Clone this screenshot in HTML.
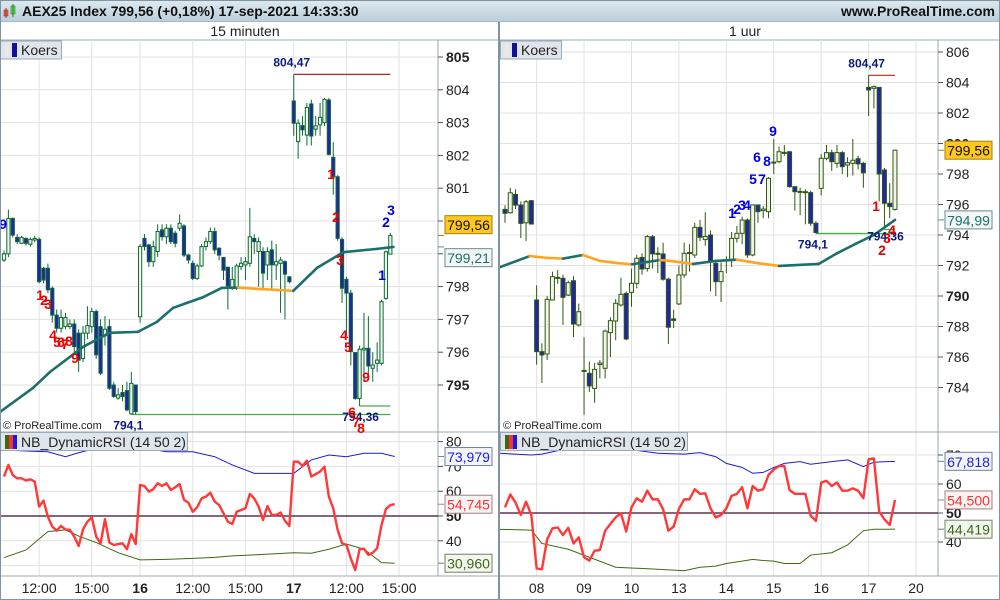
<!DOCTYPE html>
<html><head><meta charset="utf-8">
<style>
html,body{margin:0;padding:0;background:#fff;}
svg{display:block;font-family:"Liberation Sans",Arial,sans-serif;}
</style></head>
<body>
<svg id="chart" width="1000" height="600" viewBox="0 0 1000 600" xmlns="http://www.w3.org/2000/svg">
<defs>
<linearGradient id="topg" x1="0" y1="0" x2="0" y2="1"><stop offset="0" stop-color="#dfeaf0"/><stop offset="1" stop-color="#b9cdd9"/></linearGradient>
<clipPath id="clipLP"><rect x="0" y="40" width="438" height="392"/></clipPath>
<clipPath id="clipLR"><rect x="0" y="432" width="438" height="144"/></clipPath>
<clipPath id="clipRP"><rect x="500" y="40" width="438" height="392"/></clipPath>
<clipPath id="clipRR"><rect x="500" y="432" width="438" height="144"/></clipPath>
</defs>
<rect x="0" y="0" width="1000" height="600" fill="#fff"/>
<rect x="0" y="0" width="1000" height="22" fill="url(#topg)" stroke="#8fa5b3"/>
<g><rect x="4" y="10" width="4" height="6" fill="#f06060" stroke="#a03030" stroke-width="0.6"/><line x1="6" y1="8" x2="6" y2="18" stroke="#a03030"/><rect x="11" y="6" width="4" height="8" fill="#60e060" stroke="#208020" stroke-width="0.6"/><line x1="13" y1="4" x2="13" y2="17" stroke="#208020"/></g>
<text x="22" y="16" font-size="14" font-weight="bold" fill="#111">AEX25 Index 799,56 (+0,18%) 17-sep-2021 14:33:30</text>
<text x="995" y="16" font-size="14" font-weight="bold" fill="#111" text-anchor="end">www.ProRealTime.com</text>
<rect x="0" y="22" width="1000" height="18" fill="#fff"/>
<text x="245" y="36" font-size="14" fill="#222" text-anchor="middle">15 minuten</text>
<text x="745" y="36" font-size="14" fill="#222" text-anchor="middle">1 uur</text>
<line x1="0" y1="40" x2="1000" y2="40" stroke="#9aabb6"/>
<g id="root"></g>
<line x1="499" y1="22" x2="499" y2="600" stroke="#7f95a3" stroke-width="2"/>
<rect x="0.5" y="0.5" width="999" height="599" fill="none" stroke="#7f95a3"/>
</svg>
<script>
// ===== LEFT (15 min) DATA =====
const leftOHLC = [
[798.81,799.1,798.75,799.0],[799.0,800.35,798.9,800.08],[800.08,800.1,799.5,799.57],[799.5,799.6,799.3,799.37],[799.32,799.55,799.3,799.5],
[799.47,799.5,799.25,799.32],[799.29,799.5,799.22,799.44],[799.42,799.55,799.35,799.47],[799.44,799.5,798.1,798.15],[798.56,798.6,798.1,798.2],
[798.56,798.7,797.8,797.9],[797.95,798.0,796.9,797.13],[797.13,797.3,796.6,796.73],[796.73,797.3,796.6,797.06],[796.78,797.2,796.7,797.06],
[796.78,797.0,796.7,796.86],[796.86,797.0,796.0,796.17],[796.58,796.7,795.4,795.76],[795.81,796.8,795.7,796.58],[796.58,797.4,796.4,796.81],
[796.78,797.35,796.6,797.24],[797.24,797.3,795.8,795.92],[796.78,797.0,795.3,795.36],[796.5,797.1,796.2,796.7],[796.78,797.0,794.85,794.9],
[795.0,795.1,794.6,794.65],[794.6,794.9,794.55,794.7],[794.77,795.0,794.5,794.65],[794.83,795.1,794.2,794.24],[794.12,795.4,794.1,795.05],
[795.0,795.0,794.1,794.19],
[797.08,799.3,796.9,799.22],[799.47,799.6,799.1,799.22],[799.27,799.3,798.6,798.76],[798.76,799.4,798.6,799.22],[799.07,799.9,798.9,799.68],
[799.73,799.9,799.4,799.52],[799.52,799.9,799.3,799.78],[799.78,799.9,799.3,799.37],[799.63,799.7,799.2,799.32],[799.78,800.2,799.7,799.93],
[799.85,799.9,798.9,798.96],[798.96,799.0,798.7,798.81],[798.71,798.8,798.2,798.25],[798.25,798.7,798.2,798.63],[798.63,799.3,798.6,799.22],
[799.22,799.5,799.1,799.37],[799.37,799.8,799.3,799.68],[799.68,799.8,799.0,799.12],[799.17,799.2,798.8,798.96],[798.89,798.9,798.2,798.5],
[798.59,798.6,797.3,798.02],[797.95,798.6,797.9,798.22],[797.95,798.7,797.9,798.63],[798.61,798.9,798.5,798.71],[798.66,798.9,798.2,798.76],
[798.71,800.4,798.6,799.52],[799.47,799.6,799.0,799.37],[799.07,799.5,798.0,799.37],[799.07,799.2,797.9,798.41],[798.66,799.2,798.2,799.07],
[799.12,799.4,797.9,798.66],[798.66,799.3,798.2,798.76],[798.71,798.9,797.2,798.81],[798.76,798.8,797.0,798.38],[798.3,798.3,798.1,798.15],
[803.66,804.47,802.6,802.98],[802.42,803.1,801.9,802.98],[802.91,803.2,802.6,802.78],[802.62,803.6,802.3,803.46],[803.57,803.7,802.3,802.59],
[802.8,803.2,802.6,802.9],[802.93,803.6,802.6,803.16],[803.0,803.75,802.9,803.71],[803.69,803.75,802.0,802.03],[801.94,802.4,800.8,801.35],
[801.35,801.4,799.4,799.47],[799.44,799.5,797.5,797.95],[798.22,798.3,796.5,797.8],[797.8,797.9,795.6,796.02],[795.99,796.0,794.55,794.59],
[794.59,796.2,794.36,796.09],[796.07,797.2,795.1,796.12],[796.12,797.1,795.3,795.58],[795.51,796.0,795.1,795.61],[795.66,796.3,795.4,795.76],
[795.66,797.6,795.6,797.54],[797.64,799.1,797.6,799.06],[798.99,799.64,798.99,799.56]
];
const leftMAIdx = [-0.9,6.6,10.5,18,24,30.5,34.8,38.5,41.6,45.4,49.6,53.3,58,62,65.9,71.3,77.3,82.6,85,88.7];
const leftMAVal = [794.18,794.91,795.4,796.16,796.59,796.62,796.92,797.35,797.5,797.68,797.96,797.97,797.93,797.9,797.87,798.57,799.05,799.12,799.15,799.21];
const leftRSI = [65.9,70.6,66.5,65.2,65.2,64.3,64.8,63.9,53.8,56.2,49.7,45.7,44.1,46.0,44.6,44.4,41.7,37.9,44.6,47.7,
49.5,41.7,39.0,48.7,39.3,38.3,38.7,39.0,36.6,42.7,38.7,62.5,62.1,59.8,60.8,63.2,62.1,63.2,60.5,61.6,
62.9,56.5,55.4,51.7,53.5,57.1,57.8,59.4,55.8,54.4,51.1,47.7,46.8,51.7,52.4,53.1,58.9,57.1,53.8,48.4,
54.0,50.4,50.4,51.4,48.1,46.0,71.9,71.9,70.2,72.3,65.9,66.9,67.9,69.9,57.8,53.1,44.4,39.0,38.3,32.9,
28.2,36.6,36.8,34.3,35.2,37.0,46.4,52.8,54.4,54.745];
const leftBandIdx = [0,5,10,14,17,21,26,31,37,43,48,52,57,66,70,74,78,82,86,89];
const leftUpper = [76.6,76.2,75.9,73.9,75.5,77.3,78.0,77.7,75.9,75.9,73.9,70.6,67.2,67.2,72.6,74.6,73.9,75.3,75.3,73.979];
const leftLower = [33.2,36.3,43.7,44.4,41.9,39.3,35.2,32.3,32.5,32.9,33.3,33.9,34.3,35.2,35.0,36.6,38.7,36.6,31.2,30.96];
const leftPriceTicks = [795,796,797,798,799,800,801,802,803,804,805];
const leftRSITicks = [40,50,60,70,80];
const leftTimeIdx = [8,20,31,43,55,66,78,90];
const leftTimeLabels = ['12:00','15:00','16','12:00','15:00','17','12:00','15:00'];
const leftHigh = 804.47, leftLow = 794.1, leftLow2 = 794.36;

// ===== RIGHT (1 uur) DATA =====
const rightOHLC = [
[795.68,795.95,794.8,795.42],[795.46,797.1,795.4,796.77],[796.66,797.0,795.7,795.96],[795.96,796.2,793.8,794.76],[794.8,796.3,793.6,796.18],
[796.25,796.3,794.7,794.72],[789.74,790.7,785.5,786.35],[786.35,786.9,784.3,786.13],[786.2,790.0,785.8,789.78],[789.74,791.6,789.7,791.27],
[791.2,791.7,790.8,791.22],[791.16,791.4,788.1,789.91],[790.06,791.0,790.0,790.87],[791.0,791.3,787.3,788.16],[788.1,789.5,788.0,788.97],
[785.1,787.3,782.2,785.12],[784.93,785.7,783.7,784.1],[783.94,785.6,783.0,785.19],[785.5,785.8,784.6,785.6],[785.26,787.8,784.6,787.7],
[787.6,788.6,786.0,788.38],[788.36,789.8,787.1,789.52],[789.41,791.2,789.3,790.11],[790.17,790.3,787.1,787.18],[790.24,791.8,789.3,790.83],
[790.83,792.7,790.5,792.47],[792.53,792.8,791.4,791.77],[791.8,794.0,791.6,793.89],[793.89,794.0,791.8,792.76],[792.76,793.2,791.5,792.8],
[792.76,793.5,791.0,791.1],[791.1,791.2,786.85,787.95],[788.5,789.1,787.9,788.4],[789.48,792.0,789.4,791.38],[791.38,793.5,791.2,792.8],
[792.8,793.4,791.6,792.85],[792.69,794.8,792.5,794.5],[794.5,795.0,793.6,793.85],[793.7,795.5,793.3,793.9],[794.0,794.3,790.3,792.25],
[792.14,792.3,790.0,790.94],[790.94,792.2,789.6,791.6],[792.36,792.6,791.5,792.38],[792.36,794.2,791.9,793.78],[793.78,794.6,793.5,794.11],
[794.11,795.2,793.4,794.98],[794.98,795.1,792.5,792.69],[792.69,796.0,792.6,795.97],[795.97,796.0,794.8,795.53],[795.6,795.9,795.1,795.7],
[795.53,797.8,795.1,797.72],[798.74,800.3,798.0,798.78],[798.81,799.8,798.7,799.46],[799.4,799.9,799.2,799.42],[799.46,799.5,797.1,797.17],
[797.17,797.2,795.6,796.84],[796.84,797.1,795.3,796.86],[796.84,797.0,794.7,796.8],[796.78,796.9,794.6,794.77],[794.77,794.9,794.1,794.16],
[797.06,799.3,796.6,799.03],[799.03,799.9,798.9,799.4],[799.4,799.6,798.2,798.81],[798.7,799.9,798.4,799.4],[799.4,799.5,798.0,798.48],
[798.59,799.1,797.8,798.74],[798.7,800.3,797.9,798.9],[799.0,799.2,798.3,798.66],[798.7,798.8,797.1,798.08],[803.68,804.47,801.8,803.51],
[803.62,803.8,802.3,803.73],[803.68,803.7,796.2,798.0],[798.26,798.4,794.36,796.08],[796.08,797.4,795.1,795.86],[795.68,799.6,795.6,799.56]
];
const rightMAIdx = [-0.9,4.7,8,11,14.8,18,21.3,24.1,27,29.4,31.3,35.7,40,44,48,52,59.5,63,66.7,70,74];
const rightMAVal = [791.9,792.62,792.5,792.45,792.69,792.3,792.16,792.08,792.23,792.36,792.3,792.1,792.3,792.38,792.15,791.97,792.1,792.8,793.45,794.0,794.99];
const rightRSI = [51.95,56.4,53.6,49.3,53.9,49.3,30.9,30.6,40.9,
44.7,45.0,42.4,44.9,39.5,41.6,34.7,33.6,37.0,37.2,
43.9,46.2,48.5,49.9,43.6,51.95,55.1,53.9,57.7,54.7,
54.7,51.3,43.9,45.3,51.4,54.7,54.7,58.2,56.6,56.8,
51.6,48.5,49.3,51.6,55.9,56.6,58.9,51.6,59.3,57.7,
58.2,63.1,65.0,66.2,66.2,57.9,56.6,56.6,56.6,49.0,
47.3,60.5,61.1,59.3,60.5,57.7,57.7,58.5,57.7,55.1,
68.5,68.8,50.5,47.8,45.9,54.5];
const rightBandIdx = [-1,5,7,12,21,29,34,37,40,42,45,47,49,51,53,56,58,62,65,68,70,74];
const rightUpper = [70.6,70.0,70.3,72.3,72.6,70.6,70.3,70.8,69.4,67.1,65.7,63.7,64.0,65.7,67.1,67.7,66.8,67.7,68.3,66.0,67.5,67.818];
const rightLower = [44.37,44.1,39.5,37.5,31.3,30.6,30.1,31.3,31.7,32.6,33.4,34.0,33.6,33.4,32.6,32.6,35.5,36.3,38.97,43.9,44.4,44.419];
const rightPriceTicks = [784,786,788,790,792,794,796,798,800,802,804,806];
const rightRSITicks = [40,50,60,70];
const rightTimeIdx = [6,15,24,33,42,51,60,69,78];
const rightTimeLabels = ['08','09','10','13','14','15','16','17','20'];
const rightHigh = 804.47, rightLow = 794.1, rightLow2 = 794.36;

// ===== SCALES =====
const xL = i => 4 + i * 4.39;
const yL = p => 57 + (805 - p) * 32.8;
const ryL = v => 516 - (v - 50) * 2.48;
const xR = i => 505 + i * 5.27;
const yR = p => 296 - (p - 790) * 15.25;
const ryR = v => 513 - (v - 50) * 2.9;

const NS = 'http://www.w3.org/2000/svg';
const root = document.getElementById('root');
function mk(tag, attrs, parent) {
  const el = document.createElementNS(NS, tag);
  for (const k in attrs) el.setAttribute(k, attrs[k]);
  (parent || root).appendChild(el);
  return el;
}
function txt(s, attrs, parent) { const t = mk('text', attrs, parent); t.textContent = s; return t; }
function fmt(v, d) { return v.toFixed(d).replace('.', ','); }

function panel(side) {
  const L = side === 'left';
  const x0 = L ? 0 : 500, pw = 438;
  const ohlc = L ? leftOHLC : rightOHLC;
  const xf = L ? xL : xR, yf = L ? yL : yR, ry = L ? ryL : ryR;
  const g = mk('g', {});
  
  

  const grid = mk('g', {stroke: '#e2e2e2', 'stroke-width': 1}, g);
  
  
  const pt = L ? leftPriceTicks : rightPriceTicks;
  pt.forEach(p => { mk('line', {x1: x0, x2: x0 + pw, y1: yf(p), y2: yf(p)}, grid); });
  (L ? [30,40,60,70,80] : [40,60,70]).forEach(v => { mk('line', {x1: x0, x2: x0 + pw, y1: ry(v), y2: ry(v)}, grid); });
  const ti = L ? leftTimeIdx : rightTimeIdx;
  ti.forEach(i => { mk('line', {x1: xf(i), x2: xf(i), y1: 40, y2: 576}, grid); });

  const ax = mk('g', {stroke: '#9aa8b2'}, g);
  
  
  mk('line', {x1: x0 + pw, x2: x0 + pw, y1: 40, y2: 576}, ax);
  mk('line', {x1: x0, x2: x0 + 498, y1: 432, y2: 432}, ax);
  mk('line', {x1: x0, x2: x0 + 498, y1: 576, y2: 576}, ax);

  const pp = mk('g', {'clip-path': L ? 'url(#clipLP)' : 'url(#clipRP)'}, g);
  
  

  const hi = L ? leftHigh : rightHigh, lo = L ? leftLow : rightLow, lo2 = L ? leftLow2 : rightLow2;
  const n = ohlc.length;
  let hiIdx = 0, loIdx = 0;
  ohlc.forEach((d, i) => { if (d[1] >= ohlc[hiIdx][1]) hiIdx = i; if (d[2] <= ohlc[loIdx][2]) loIdx = i; });
  const rl = mk('line', {x1: xf(hiIdx), x2: xf(n - 1), y1: yf(hi), y2: yf(hi), stroke: '#c02020', 'stroke-width': 1.2}, pp);
  
  
  let lo1Idx = 0; ohlc.forEach((d, i) => { if (Math.abs(d[2] - lo) < 0.02 && lo1Idx === 0) lo1Idx = i; });
  const sl = mk('line', {x1: xf(lo1Idx), x2: xf(n - 1), y1: yf(lo), y2: yf(lo), stroke: '#40b040', 'stroke-width': 1.2}, pp);
  
  
  let lo2Idx = n - 1; ohlc.forEach((d, i) => { if (Math.abs(d[2] - lo2) < 0.02) lo2Idx = i; });
  const sl2 = mk('line', {x1: xf(lo2Idx), x2: xf(n - 1), y1: yf(lo2), y2: yf(lo2), stroke: '#40b040', 'stroke-width': 1.2}, pp);
  
  

  const stroke = L ? '#0b6b35' : '#2d5a0f';
  const bw = L ? 3.2 : 4;
  ohlc.forEach((d, i) => {
    const [o, h, l, c] = d;
    const cg = mk('g', {}, pp);
    
    
    const x = xf(i);
    mk('line', {x1: x, x2: x, y1: yf(h), y2: yf(l), stroke: stroke, 'stroke-width': 1}, cg);
    const top = yf(Math.max(o, c)), bot = yf(Math.min(o, c));
    mk('rect', {x: x - bw / 2, y: top, width: bw, height: Math.max(1, bot - top), fill: c >= o ? '#f3f3ec' : '#2424a8', stroke: stroke, 'stroke-width': 1}, cg);
  });

  const mi = L ? leftMAIdx : rightMAIdx, mv = L ? leftMAVal : rightMAVal;
  const mg = mk('g', {fill: 'none', 'stroke-width': 2.6, 'stroke-linecap': 'round'}, pp);
  
  
  for (let k = 0; k < mi.length - 1; k++) {
    const col = mv[k + 1] < mv[k] ? '#ffa41f' : '#1b6f6c';
    mk('line', {x1: xf(mi[k]), y1: yf(mv[k]), x2: xf(mi[k + 1]), y2: yf(mv[k + 1]), stroke: col}, mg);
  }

  const hl = txt(fmt(hi, 2), {x: xf(hiIdx) - 2, y: yf(hi) - 8, 'font-size': 12, 'font-weight': 'bold', fill: '#0a1a7a', 'text-anchor': 'middle'}, g);
  
  
  const ll = txt(String(lo).replace('.', ','), {x: xf(lo1Idx) - 3, y: yf(lo) + 15, 'font-size': 12, 'font-weight': 'bold', fill: '#0a1a7a', 'text-anchor': 'middle'}, g);
  
  
  const ll2 = txt(fmt(lo2, 2), {x: xf(lo2Idx) + 1, y: yf(lo2) + (L ? 15 : 11), 'font-size': 12, 'font-weight': 'bold', fill: '#0a1a7a', 'text-anchor': 'middle'}, g);
  
  

  const pa = mk('g', {'font-size': 14, fill: '#222'}, g);
  
  
  pt.forEach(p => {
    const b = L ? (p === 805 || p === 795) : (p === 790 || p === 800);
    mk('line', {x1: x0 + pw, x2: x0 + pw + 5, y1: yf(p), y2: yf(p), stroke: '#555'}, pa);
    txt(String(p), {x: x0 + pw + 8, y: yf(p) + 5, 'font-weight': b ? 'bold' : 'normal'}, pa);
  });

  const rp = mk('g', {'clip-path': L ? 'url(#clipLR)' : 'url(#clipRR)'}, g);
  
  
  const mid = mk('line', {x1: x0, x2: x0 + pw, y1: ry(50), y2: ry(50), stroke: '#3a0a30', 'stroke-width': 1.2}, rp);
  
  
  const bi = L ? leftBandIdx : rightBandIdx;
  const up = L ? leftUpper : rightUpper, lw = L ? leftLower : rightLower;
  const upl = mk('polyline', {points: bi.map((i, k) => xf(i) + ',' + ry(up[k])).join(' '), fill: 'none', stroke: '#1a1ae0', 'stroke-width': 1}, rp);
  
  
  const lwl = mk('polyline', {points: bi.map((i, k) => xf(i) + ',' + ry(lw[k])).join(' '), fill: 'none', stroke: '#3d6a10', 'stroke-width': 1}, rp);
  
  
  const rs = L ? leftRSI : rightRSI;
  const rsl = mk('polyline', {points: rs.map((v, i) => xf(i) + ',' + ry(v)).join(' '), fill: 'none', stroke: '#ff3838', 'stroke-width': 2.4, 'stroke-linejoin': 'round'}, rp);
  
  

  const ra = mk('g', {'font-size': 14, fill: '#222'}, g);
  
  
  (L ? leftRSITicks : rightRSITicks).forEach(v => {
    mk('line', {x1: x0 + pw, x2: x0 + pw + 5, y1: ry(v), y2: ry(v), stroke: '#555'}, ra);
    txt(String(v), {x: x0 + pw + 8, y: ry(v) + 5, 'font-weight': v === 50 ? 'bold' : 'normal'}, ra);
  });

  const ta = mk('g', {'font-size': 14, fill: '#222', 'text-anchor': 'middle'}, g);
  
  
  const tl = L ? leftTimeLabels : rightTimeLabels;
  ti.forEach((i, k) => {
    txt(tl[k], {x: xf(i), y: 593, 'font-weight': tl[k].length === 2 && L ? 'bold' : 'normal'}, ta);
  });

  function vbox(name, val, y, ty, fill, strokeC, textC, d) {
    const bg = mk('g', {}, g);
    
    
    mk('line', {x1: x0 + pw, x2: x0 + pw + 6, y1: y, y2: y, stroke: strokeC}, bg);
    mk('rect', {x: x0 + pw + 7, y: ty - 9, width: 47, height: 18, fill: fill, stroke: strokeC}, bg);
    txt(fmt(val, d), {x: x0 + pw + 30.5, y: ty + 5.5, 'font-size': 14, fill: textC, 'text-anchor': 'middle'}, bg);
  }
  const last = ohlc[n - 1][3];
  const maLast = mv[mv.length - 1];
  let yLast = yf(last), yMa = yf(maLast);
  let tLast = yLast, tMa = yMa;
  if (Math.abs(yLast - yMa) < 20) {
    const m = (yLast + yMa) / 2;
    if (yLast <= yMa) { tLast = m - 16.5; tMa = m + 16.5; } else { tLast = m + 16.5; tMa = m - 16.5; }
  }
  vbox('last-price-box', last, yLast, tLast, '#ffc81a', '#a08010', '#111', 2);
  vbox('ma-value-box', maLast, yMa, tMa, '#f2f6f6', '#6a8a8a', '#1b6f6c', 2);
  vbox('rsi-upper-box', up[up.length - 1], ry(up[up.length - 1]), ry(up[up.length - 1]), '#f2f4f8', '#7080a0', '#2020e0', 3);
  vbox('rsi-value-box', rs[rs.length - 1], ry(rs[rs.length - 1]), ry(rs[rs.length - 1]), '#f8f2f2', '#a08080', '#ff3030', 3);
  vbox('rsi-lower-box', lw[lw.length - 1], ry(lw[lw.length - 1]), ry(lw[lw.length - 1]), '#f2f6f0', '#708060', '#3d6a10', 3);

  const lg = mk('g', {}, g);
  
  
  mk('rect', {x: x0 + 0.5, y: 41, width: 61, height: 18, fill: '#dfe5ea', stroke: '#9aabb6'}, lg);
  mk('rect', {x: x0 + 5, y: 43, width: 4, height: 14, fill: '#e8e8e8'}, lg);
  mk('rect', {x: x0 + 12, y: 43, width: 5, height: 14, fill: '#10109a'}, lg);
  txt('Koers', {x: x0 + 21, y: 55, 'font-size': 14, fill: '#222'}, lg);
  const rg = mk('g', {}, g);
  
  
  mk('rect', {x: x0 + 0.5, y: 432.5, width: 187, height: 18, fill: '#dfe5ea', stroke: '#9aabb6'}, rg);
  mk('rect', {x: x0 + 5, y: 435, width: 4, height: 14, fill: '#3d6a10'}, rg);
  mk('rect', {x: x0 + 9, y: 435, width: 4, height: 14, fill: '#ff3030'}, rg);
  mk('rect', {x: x0 + 13, y: 435, width: 4, height: 14, fill: '#1a1ae0'}, rg);
  txt('NB_DynamicRSI (14 50 2)', {x: x0 + 21, y: 447, 'font-size': 14, fill: '#222'}, rg);
  const cp = txt('© ProRealTime.com', {x: x0 + 3, y: 429, 'font-size': 11, fill: '#222'}, g);
  
  
}
panel('left');
panel('right');

const tdLabels = [
['9','#0000ee',3,229],['1','#ee0000',40,300],['2','#ee0000',44,305],['3','#ee0000',48,309],['4','#ee0000',53,340],['5','#ee0000',57,347],['6','#ee0000',61,347],['7','#ee0000',65,349],['8','#ee0000',69,346],['9','#ee0000',75,363],
['1','#ee0000',331,179],['2','#ee0000',336,222],['3','#ee0000',340,265],['4','#ee0000',344,340],['5','#ee0000',348,352],['9','#ee0000',366,382],['6','#ee0000',352,417],['7','#ee0000',356,427],['8','#ee0000',361,433],
['1','#0000ee',382,280],['2','#0000ee',386,227],['3','#0000ee',391,215],
['1','#0000ee',732,218],['2','#0000ee',737,214],['3','#0000ee',742,210],['4','#0000ee',747,210],['5','#0000ee',753,184],['7','#0000ee',762,184],['6','#0000ee',757,162],['8','#0000ee',767,166],['9','#0000ee',773,136],
['1','#ee0000',876,211],['4','#ee0000',892,235],['3','#ee0000',887,243],['2','#ee0000',882,255]
];
const tdg = mk('g', {'font-size': 14, 'font-weight': 'bold', 'text-anchor': 'middle'});


tdLabels.forEach(t => {
  const e = txt(t[0], {x: t[2], y: t[3], fill: t[1]}, tdg);
  
  
});
</script>
</body></html>
